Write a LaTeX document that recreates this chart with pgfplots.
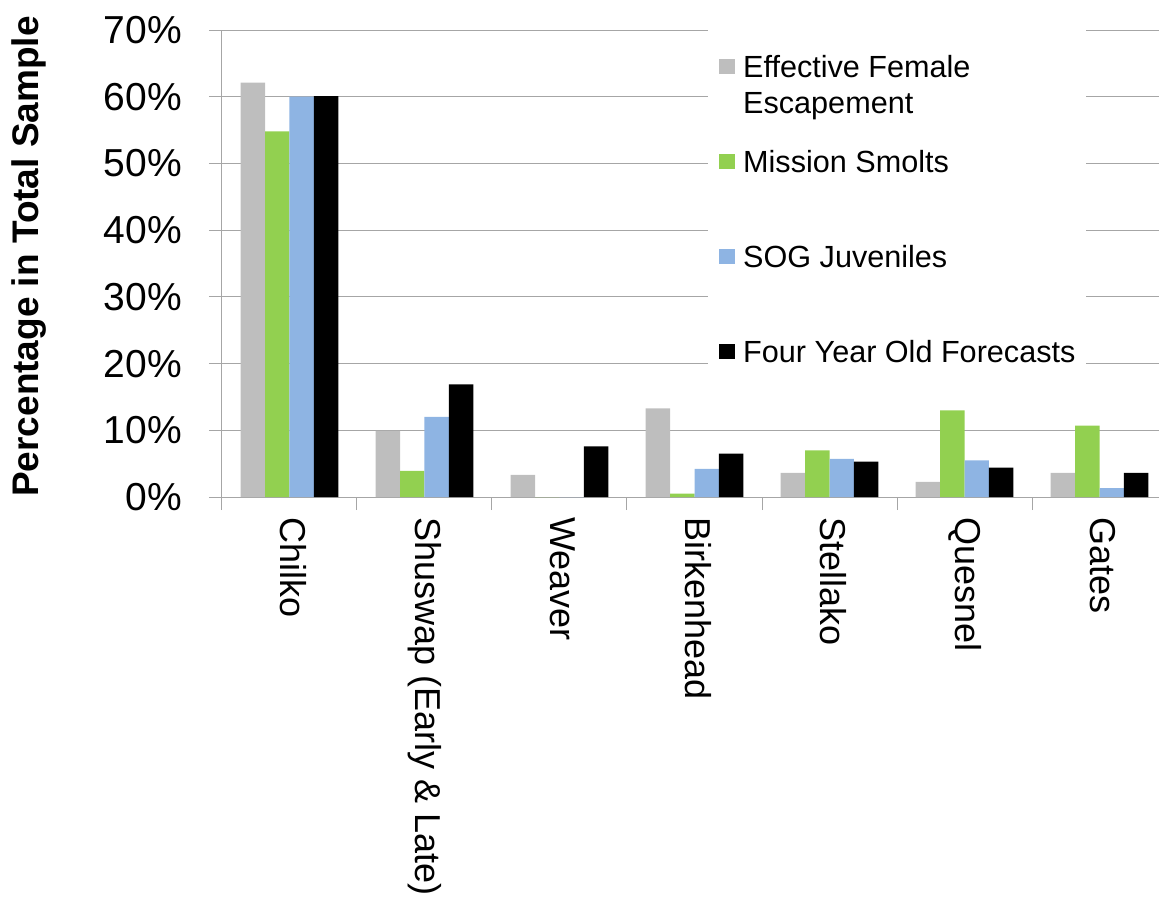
\documentclass[border=0pt]{standalone}
\usepackage{fontspec}
\setmainfont{Liberation Sans}
\usepackage{pgfplots}
\pgfplotsset{compat=1.18}
\definecolor{cgray}{HTML}{BEBEBE}
\definecolor{cgreen}{HTML}{92D050}
\definecolor{cblue}{HTML}{8EB4E3}
\definecolor{cgrid}{HTML}{A6A6A6}
\begin{document}
\begin{tikzpicture}
\begin{axis}[
  at={(0,0)}, anchor=south west,
  width=945pt, height=467pt, scale only axis,
  xmin=-0.5, xmax=6.5, ymin=0, ymax=70,
  ybar=0pt, bar width=24.4pt,
  axis x line*=bottom, axis y line*=left,
  axis line style={cgrid, line width=1pt, -},
  xtick={0,1,2,3,4,5,6},
  xticklabels={Chilko,Shuswap (Early \& Late),Weaver,Birkenhead,Stellako,Quesnel,Gates},
  x tick style={draw=none},
  extra x ticks={-0.5,0.5,1.5,2.5,3.5,4.5,5.5,6.5},
  extra x tick labels={},
  extra x tick style={major tick length=13pt, tick align=outside, xtick style={draw=cgrid, line width=1pt}, grid=none},
  ytick={0,10,...,70},
  yticklabel={\pgfmathprintnumber{\tick}\%},
  y tick style={draw=cgrid, line width=1pt},
  major tick length=13pt, tick align=outside,
  ymajorgrids, grid style={cgrid, line width=1pt},
  /pgf/number format/assume math mode=true,
  yticklabel style={font=\fontsize{39}{46}\selectfont, inner sep=0pt, xshift=-27pt},
  xticklabel style={font=\fontsize{36}{43}\selectfont, rotate=-90, anchor=west, inner sep=0pt, xshift=7pt},
  typeset ticklabels with strut,
  ylabel={Percentage in Total Sample},
  ylabel style={font=\fontsize{37}{44}\selectfont\bfseries, at={([xshift=-193pt,yshift=7pt]axis description cs:0,0.5)}, anchor=center},
  legend cell align=left,
  legend image code/.code={\fill[#1] (0pt,-7.5pt) rectangle (16pt,7.5pt);},
  legend style={at={(0.5143,1)}, anchor=north west, fill=white, draw=none,
    inner xsep=11pt, inner ysep=26pt, row sep=74pt, column sep=8pt,
    font=\fontsize{30.6}{36}\selectfont,
    nodes={text height=21pt, text depth=0pt, inner sep=0pt}},
]
\addplot[fill=cgray, draw=none] coordinates {(0,62.1) (1,9.9) (2,3.3) (3,13.3) (4,3.6) (5,2.25) (6,3.6)};
\addplot[fill=cgreen, draw=none] coordinates {(0,54.8) (1,3.9) (2,0) (3,0.5) (4,7.0) (5,13.0) (6,10.7)};
\addplot[fill=cblue, draw=none] coordinates {(0,60.0) (1,12.0) (2,0) (3,4.2) (4,5.7) (5,5.5) (6,1.35)};
\addplot[fill=black, draw=none] coordinates {(0,60.1) (1,16.9) (2,7.6) (3,6.5) (4,5.3) (5,4.4) (6,3.6)};
\legend{\rlap{\raisebox{-36pt}[0pt][0pt]{Escapement}}Effective Female, Mission Smolts, SOG Juveniles, Four Year Old Forecasts}
\end{axis}
\pgfresetboundingbox
\useasboundingbox (-222pt,-401pt) rectangle (937pt,497pt);
\end{tikzpicture}
\end{document}
